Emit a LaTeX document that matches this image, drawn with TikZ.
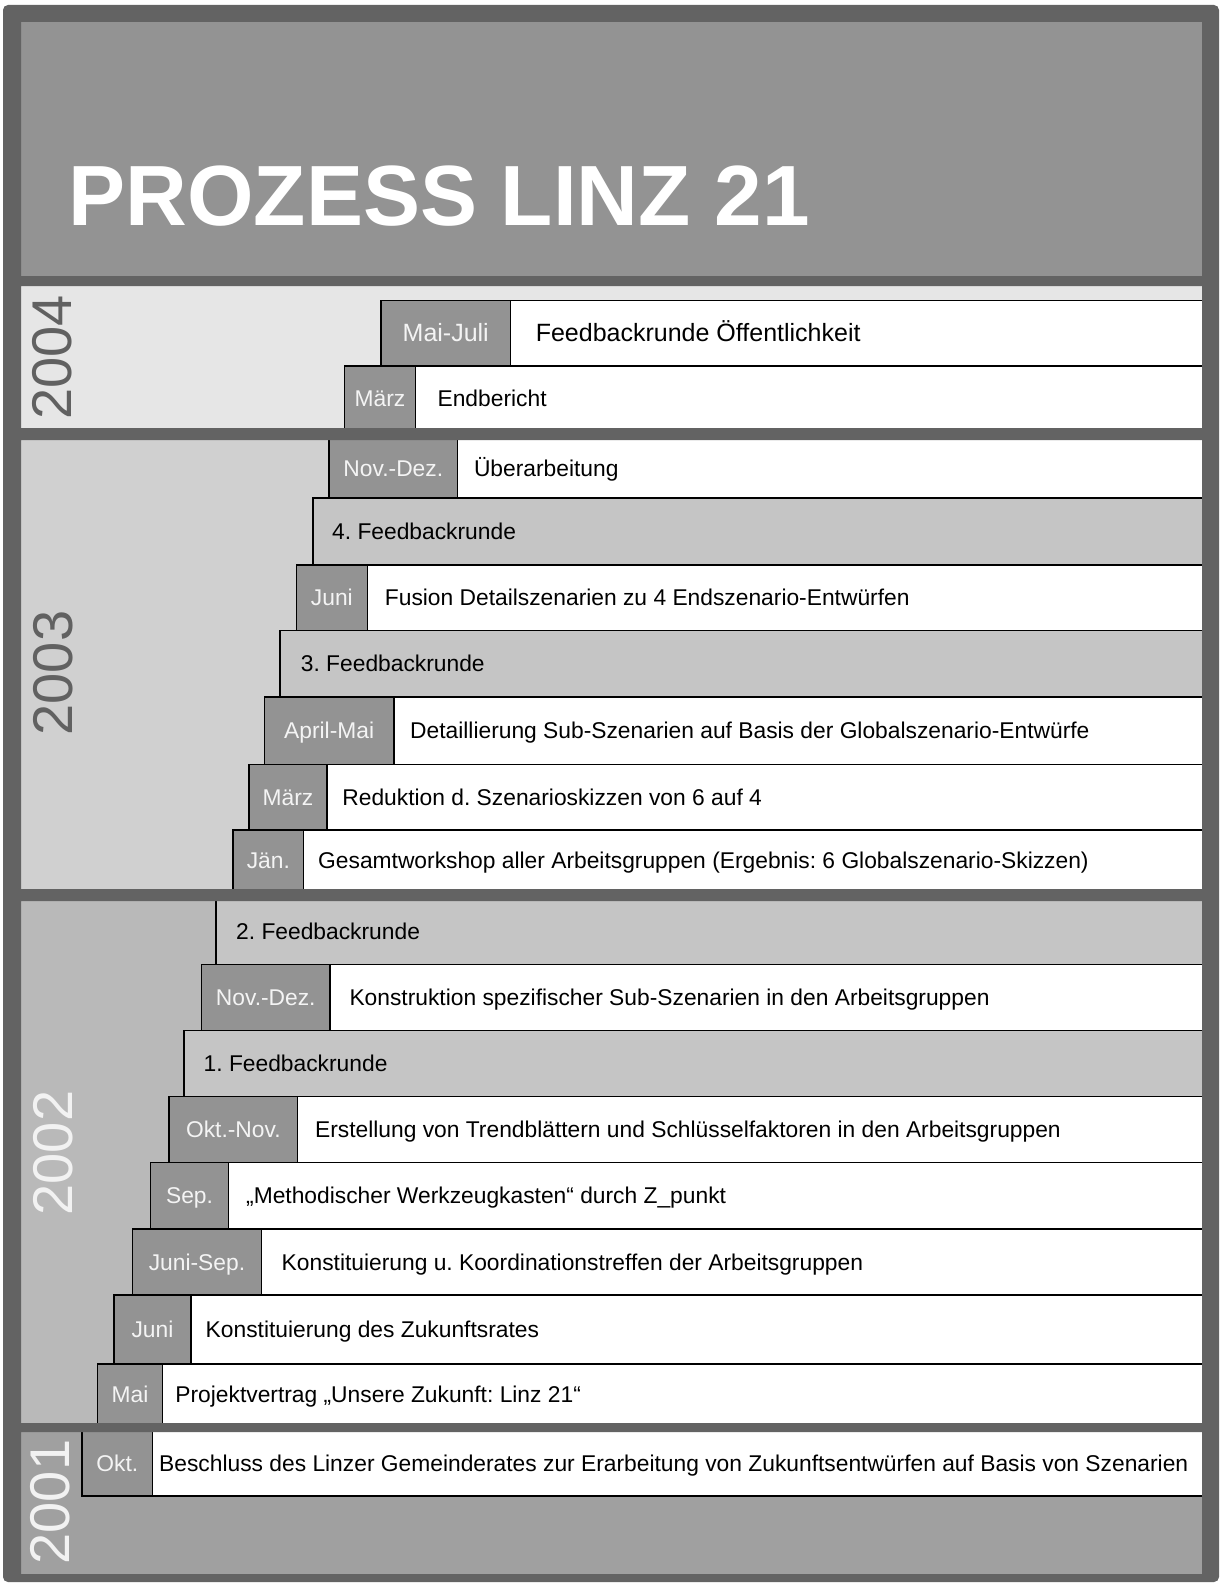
\documentclass[tikz,border=0pt]{standalone}
\usepackage{fontspec}
\setmainfont{Liberation Sans}
\frenchspacing
\definecolor{framecol}{HTML}{636363}
\definecolor{titlecol}{HTML}{939393}
\definecolor{datecol}{HTML}{939393}
\definecolor{fbcol}{HTML}{C5C5C5}
\definecolor{pA}{HTML}{E6E6E6}
\definecolor{pB}{HTML}{D0D0D0}
\definecolor{pC}{HTML}{B9B9B9}
\definecolor{pD}{HTML}{A0A0A0}
\definecolor{yeardark}{HTML}{616161}
\definecolor{yearlight}{HTML}{F2F2F2}
\definecolor{datetxt}{HTML}{F4F4F4}
\tikzset{
  rowline/.style={draw=black, line width=1.5pt},
  datetext/.style={anchor=base, inner sep=0pt, text=datetxt, font=\fontsize{22.8}{24}\selectfont},
  rowtext/.style={anchor=base west, inner sep=0pt, text=black, font=\fontsize{22.8}{24}\selectfont},
  bigtext/.style={font=\fontsize{25}{26}\selectfont},
  yearlabel/.style={rotate=90, inner sep=0pt, anchor=center, font=\fontsize{56}{56}\selectfont},
}
\newcommand\evrow[9][]{%
  \pgfmathsetmacro\rmid{(#4+#5)/2+8}%
  \pgfmathsetmacro\dmid{(#3+#6)/2}%
  \draw[rowline, fill=datecol] (#3,#4) rectangle (#6,#5);
  \draw[rowline, fill=white] (#6,#4) rectangle (1212,#5);
  \node[datetext,#1] (#2d) at (\dmid,\rmid) {#7};
  \node[rowtext,#1] (#2t) at (#8,\rmid) {#9};
}
\newcommand\fbrow[6]{%
  \pgfmathsetmacro\rmid{(#3+#4)/2+8}%
  \draw[rowline, fill=fbcol] (#2,#3) rectangle (1212,#4);
  \node[rowtext] (#1t) at (#5,\rmid) {#6};
}
\begin{document}
\begin{tikzpicture}[x=1pt,y=-1pt]
\useasboundingbox (0,0) rectangle (1219,1587);
\fill[white] (0,0) rectangle (1219,1587);
% panels
\fill[titlecol] (21,22) rectangle (1202,276);
\fill[pA] (21,286) rectangle (1202,428);
\fill[pB] (21,440) rectangle (1202,889);
\fill[pC] (21,901) rectangle (1202,1423);
\fill[pD] (21,1432) rectangle (1202,1574);
% 2004
\evrow[bigtext]{r1}{381}{300.7}{366}{510.5}{Mai-Juli}{535.6}{Feedbackrunde Öffentlichkeit}
\evrow{r2}{344.3}{366}{430}{415.6}{März}{437.4}{Endbericht}
% 2003
\evrow{r3}{329}{438}{498.1}{457.6}{Nov.-Dez.}{473.8}{Überarbeitung}
\fbrow{r4}{312.8}{498.1}{565}{332}{4. Feedbackrunde}
\evrow{r5}{296.3}{565}{630.7}{367.5}{Juni}{384.7}{Fusion Detailszenarien zu 4 Endszenario-Entwürfen}
\fbrow{r6}{280}{630.7}{697}{300.7}{3. Feedbackrunde}
\evrow{r7}{264.5}{697}{764.4}{393.8}{April-Mai}{410}{Detaillierung Sub-Szenarien auf Basis der Globalszenario-Entwürfe}
\evrow{r8}{249}{764.4}{830.2}{327}{März}{342.2}{Reduktion d. Szenarioskizzen von 6 auf 4}
\evrow{r9}{232.9}{830.2}{891}{303.7}{Jän.}{318}{Gesamtworkshop aller Arbeitsgruppen (Ergebnis: 6 Globalszenario-Skizzen)}
% 2002
\fbrow{r10}{216}{899}{964.5}{236}{2. Feedbackrunde}
\evrow{r11}{201.5}{964.5}{1030.7}{330}{Nov.-Dez.}{349.3}{Konstruktion spezifischer Sub-Szenarien in den Arbeitsgruppen}
\fbrow{r12}{184}{1030.7}{1096.7}{203.5}{1. Feedbackrunde}
\evrow{r13}{169}{1096.7}{1162.3}{297.7}{Okt.-Nov.}{314.9}{Erstellung von Trendblättern und Schlüsselfaktoren in den Arbeitsgruppen}
\evrow{r14}{150.7}{1162.3}{1229}{228.3}{Sep.}{246}{„Methodischer Werkzeugkasten“ durch Z\_punkt}
\evrow{r15}{132.3}{1229}{1295}{261.7}{Juni-Sep.}{281.5}{Konstituierung u. Koordinationstreffen der Arbeitsgruppen}
\evrow{r16}{114}{1295}{1364}{191}{Juni}{205.5}{Konstituierung des Zukunftsrates}
\evrow{r17}{97.7}{1364}{1425}{162.3}{Mai}{175.2}{Projektvertrag „Unsere Zukunft: Linz 21“}
% 2001
\evrow{r18}{82}{1430}{1496}{152.7}{Okt.}{159}{Beschluss des Linzer Gemeinderates zur Erarbeitung von Zukunftsentwürfen auf Basis von Szenarien}
% frame
\fill[framecol, even odd rule]
  [rounded corners=5pt] (3,5) rectangle (1219,1582)
  [sharp corners] (21,22) rectangle (1202,276)
  (21,286) rectangle (1202,428)
  (21,440) rectangle (1202,889)
  (21,901) rectangle (1202,1423)
  (21,1432) rectangle (1202,1574);
% title
\node[anchor=base west, inner sep=0pt, text=white, font=\fontsize{85.5}{86}\selectfont\bfseries] (title) at (68.3,225.5) {PROZESS LINZ 21};
% years
\node[yearlabel, text=yeardark] (y2004) at (52,357.5) {2004};
\node[yearlabel, text=yeardark] (y2003) at (53.5,673) {2003};
\node[yearlabel, text=yearlight] (y2002) at (53,1153) {2002};
\node[yearlabel, text=yearlight] (y2001) at (50,1502) {2001};
\end{tikzpicture}
\end{document}
